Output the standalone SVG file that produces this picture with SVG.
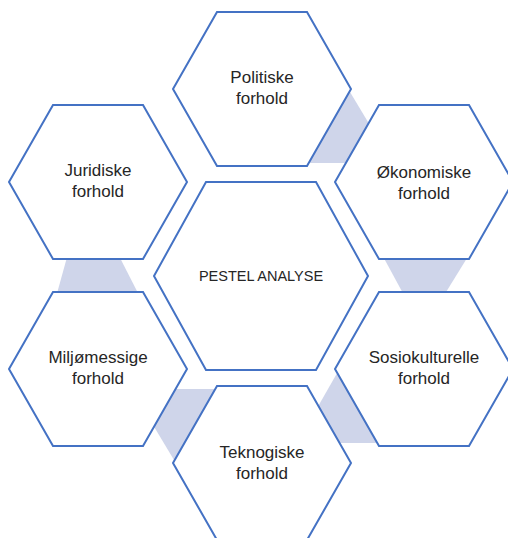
<svg xmlns="http://www.w3.org/2000/svg" xmlns:xlink="http://www.w3.org/1999/xlink" width="508" height="538" viewBox="0 0 508 538">
  <style>
    .hex { fill: #ffffff; stroke: #4472C4; stroke-width: 2; stroke-linejoin: miter; }
    .con { fill: #CFD5EA; stroke: none; }
    .lbl { font-family: "Liberation Sans", Arial, sans-serif; font-size: 17px; fill: #262626; text-anchor: middle; }
    .ctr { font-family: "Liberation Sans", Arial, sans-serif; font-size: 14.5px; fill: #262626; text-anchor: middle; }
  </style>
  <defs>
    <polygon id="hexS" points="-45,-77 45,-77 89,0 45,77 -45,77 -89,0"/>
    <polygon id="hexL" points="-55,-94 55,-94 107,0 55,94 -55,94 -107,0"/>
  </defs>
  <rect width="508" height="538" fill="#ffffff"/>
  <g id="connectors">
    <polygon class="con" points="344,82 374,132 360,163 295,163"/>
    <polygon class="con" points="379.5,250 472,250 443,297 405,297"/>
    <polygon class="con" points="340,368 390,443 330,443 312,417"/>
    <polygon class="con" points="180,470 150,420 164,389 229,389"/>
    <polygon class="con" points="69,250 116,250 140,297 56,297"/>
  </g>
  <g id="center">
    <use xlink:href="#hexL" class="hex" transform="translate(261,276)"/>
    <text class="ctr" x="261" y="281">PESTEL ANALYSE</text>
  </g>
  <g id="politiske">
    <use xlink:href="#hexS" class="hex" transform="translate(262,89)"/>
    <text class="lbl" x="262" y="83">Politiske</text>
    <text class="lbl" x="262" y="104">forhold</text>
  </g>
  <g id="okonomiske">
    <use xlink:href="#hexS" class="hex" transform="translate(424,182)"/>
    <text class="lbl" x="424" y="178">Økonomiske</text>
    <text class="lbl" x="424" y="199">forhold</text>
  </g>
  <g id="sosiokulturelle">
    <use xlink:href="#hexS" class="hex" transform="translate(424,369)"/>
    <text class="lbl" x="424" y="363">Sosiokulturelle</text>
    <text class="lbl" x="424" y="384">forhold</text>
  </g>
  <g id="teknogiske">
    <use xlink:href="#hexS" class="hex" transform="translate(262,463)"/>
    <text class="lbl" x="262" y="458">Teknogiske</text>
    <text class="lbl" x="262" y="479">forhold</text>
  </g>
  <g id="miljomessige">
    <use xlink:href="#hexS" class="hex" transform="translate(98,369)"/>
    <text class="lbl" x="98" y="363">Miljømessige</text>
    <text class="lbl" x="98" y="384">forhold</text>
  </g>
  <g id="juridiske">
    <use xlink:href="#hexS" class="hex" transform="translate(98,182)"/>
    <text class="lbl" x="98" y="176">Juridiske</text>
    <text class="lbl" x="98" y="197">forhold</text>
  </g>
</svg>
